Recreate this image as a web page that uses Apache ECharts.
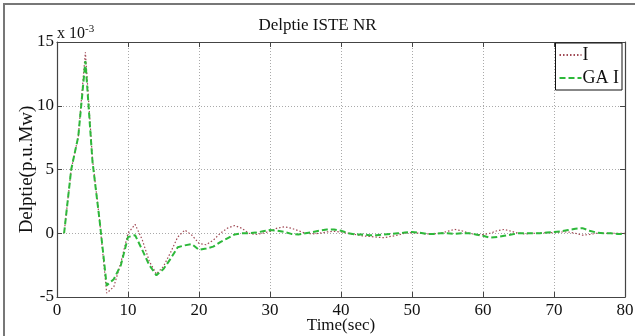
<!DOCTYPE html>
<html><head><meta charset="utf-8">
<script src="https://cdn.jsdelivr.net/npm/echarts@6/dist/echarts.min.js"></script>
<style>html,body{margin:0;padding:0;background:#fff}#c{width:635px;height:336px}</style>
</head><body><div id="c"></div>
<script>
const times = [];
for (let t = 1; t <= 80; t++) times.push(t);
const seriesI = [0,5,7.6,14.2,5.8,1.0,-4.7,-4.2,-2.3,0.0,0.7,-0.5,-2.2,-3.2,-2.6,-1.5,-0.3,0.25,-0.15,-0.8,
  -0.9,-0.55,0.0,0.4,0.6,0.4,0.0,-0.1,0.0,0.15,0.4,0.5,0.4,0.2,0.0,-0.05,0.0,0.1,0.15,0.1,
  0.0,-0.1,-0.2,-0.25,-0.3,-0.35,-0.25,-0.15,0.0,0.05,0.0,-0.05,-0.05,0.0,0.15,0.3,0.2,0.0,-0.1,-0.1,
  0.0,0.2,0.3,0.15,0.0,-0.05,0.0,0.0,0.05,0.05,0.1,0.1,0.0,-0.15,-0.1,0.0,0.0,0.0,0.0,0.0];
const seriesGA = [0,5,7.6,13.5,5.6,1.0,-4.1,-3.6,-2.5,-0.3,-0.15,-1.3,-2.5,-3.3,-2.8,-2.0,-1.1,-0.95,-0.85,-1.3,
  -1.2,-1.05,-0.7,-0.4,-0.1,0.0,0.0,0.05,0.15,0.25,0.2,0.1,-0.05,-0.1,0.0,0.1,0.2,0.3,0.3,0.2,
  0.0,-0.1,-0.1,-0.15,-0.15,-0.1,-0.05,0.0,0.05,0.1,0.05,-0.05,-0.05,0.0,0.0,-0.05,0.0,0.0,-0.1,-0.2,
  -0.35,-0.3,-0.2,-0.1,0.0,0.0,0.0,0.0,0.05,0.1,0.15,0.25,0.35,0.4,0.2,0.05,0.0,0.0,-0.05,-0.05];
const seriesNames = ['I', 'GA I'];
const xTicks = {min: 0, max: 80, interval: 10};
const yTicks = {min: -5, max: 15, interval: 5};

const font = 'Liberation Serif, Times New Roman, serif';
const chart = echarts.init(document.getElementById('c'), null, {renderer: 'canvas'});
const axisLine = {show: true, onZero: false, lineStyle: {color: '#444', width: 1.2}};
const tick = {inside: true, length: 5, lineStyle: {color: '#444'}};
chart.setOption({
  animation: false,
  backgroundColor: '#fff',
  title: {text: 'Delptie ISTE NR', left: 'center', top: 12, textStyle: {fontFamily: font, fontSize: 17, fontWeight: 'normal', color: '#111'}},
  graphic: [
    {type: 'rect', shape: {x: 4, y: 4, width: 700, height: 400}, style: {fill: 'none', stroke: '#777', lineWidth: 2}, silent: true},
    {type: 'text', left: 57, top: 24, style: {text: '{a|x 10}{b|-3}', rich: {a: {fontFamily: font, fontSize: 16, fill: '#111'}, b: {fontFamily: font, fontSize: 11, fill: '#111', verticalAlign: 'top', padding: [0,0,9,0]}}}}
  ],
  legend: {
    orient: 'vertical', right: 13, top: 43, data: seriesNames,
    backgroundColor: '#fff', borderColor: '#111', borderWidth: 1, borderRadius: 0,
    padding: [3, 3, 3, 3], itemGap: 5, itemWidth: 22, itemHeight: 16,
    itemStyle: {opacity: 0},
    textStyle: {fontFamily: font, fontSize: 18, color: '#111', padding: [0,0,0,-4]}
  },
  grid: {left: 57, right: 10, top: 42, bottom: 39, containLabel: false, outerBoundsMode: 'none'},
  xAxis: [{
    type: 'value', min: xTicks.min, max: xTicks.max, interval: xTicks.interval,
    name: 'Time(sec)', nameLocation: 'middle', nameGap: 20, nameMoveOverlap: false,
    nameTextStyle: {fontFamily: font, fontSize: 17, color: '#111'},
    axisLine: axisLine, axisTick: tick,
    axisLabel: {fontFamily: font, fontSize: 17, color: '#111', margin: 5},
    splitLine: {show: true, lineStyle: {color: '#aaa', type: [1, 2], width: 1}}
  }, {
    type: 'value', position: 'top', min: xTicks.min, max: xTicks.max, interval: xTicks.interval,
    axisLine: axisLine, axisTick: tick,
    axisLabel: {show: false}, splitLine: {show: false}
  }],
  yAxis: [{
    type: 'value', min: yTicks.min, max: yTicks.max, interval: yTicks.interval,
    name: 'Delptie(p.u.Mw)', nameLocation: 'middle', nameGap: 20, nameRotate: 90, nameMoveOverlap: false,
    nameTextStyle: {fontFamily: font, fontSize: 19, color: '#111'},
    axisLine: axisLine, axisTick: tick,
    axisLabel: {fontFamily: font, fontSize: 17, color: '#111', margin: 3},
    splitLine: {show: true, lineStyle: {color: '#aaa', type: [1, 2], width: 1}}
  }, {
    type: 'value', position: 'right', min: yTicks.min, max: yTicks.max, interval: yTicks.interval,
    axisLine: axisLine, axisTick: tick,
    axisLabel: {show: false}, splitLine: {show: false}
  }],
  series: [
    {name: seriesNames[0], type: 'line', symbol: 'none', smooth: false,
     data: times.map((t, i) => [t, seriesI[i]]),
     lineStyle: {color: '#a04a55', width: 1.2, type: [1.5, 2]}, itemStyle: {color: '#a04a55'}},
    {name: seriesNames[1], type: 'line', symbol: 'none', smooth: false,
     data: times.map((t, i) => [t, seriesGA[i]]),
     lineStyle: {color: '#2db83a', width: 2, type: [6, 3]}, itemStyle: {color: '#2db83a'}}
  ]
});
</script></body></html>
